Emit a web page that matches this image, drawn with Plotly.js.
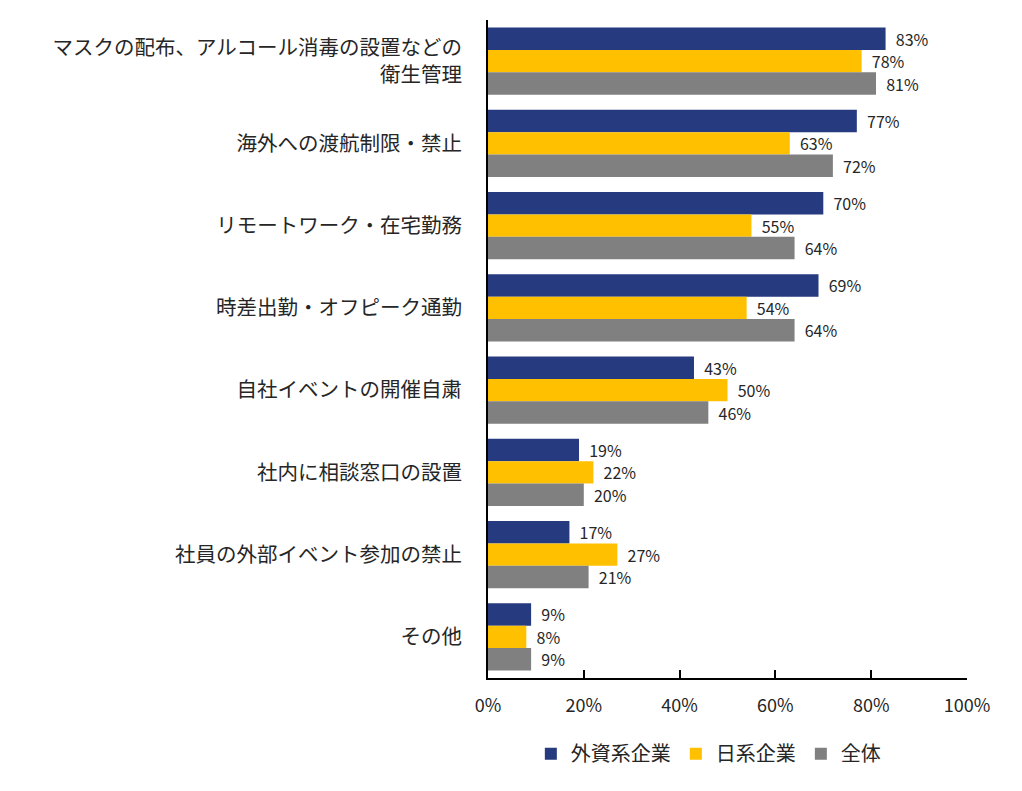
<!DOCTYPE html>
<html><head><meta charset="utf-8">
<script src="https://cdn.plot.ly/plotly-3.0.1.min.js"></script>
<style>body{margin:0;background:#fff}#c{width:1022px;height:791px}</style>
</head><body><div id="c"></div>
<script>
const categories = ["マスクの配布、アルコール消毒の設置などの<br>衛生管理","海外への渡航制限・禁止","リモートワーク・在宅勤務","時差出勤・オフピーク通勤","自社イベントの開催自粛","社内に相談窓口の設置","社員の外部イベント参加の禁止","その他"];
const foreign = [83,77,70,69,43,19,17,9];
const japanese = [78,63,55,54,50,22,27,8];
const overall = [81,72,64,64,46,20,21,9];
const seriesNames = ["外資系企業","日系企業","全体"];
const colors = ["#253A7F","#FFC000","#808080"];
const font = "'Noto Sans CJK JP', 'Noto Sans', sans-serif";
const mk = (vals,i)=>({type:'bar',orientation:'h',name:seriesNames[i],y:categories,x:vals.map(v=>v/100),
  marker:{color:colors[i]},text:vals.map(v=>'\u00a0\u00a0'+v+'%'),textposition:'outside',cliponaxis:false,
  constraintext:'none',
  textfont:{size:16,color:'#262626',family:font},hoverinfo:'none'});
const data=[mk(foreign,0),mk(japanese,1),mk(overall,2)];
const layout={width:1022,height:791,margin:{l:488,r:55,t:20,b:113},
  barmode:'group',bargap:0.18,bargroupgap:0,
  paper_bgcolor:'#fff',plot_bgcolor:'#fff',showlegend:true,
  font:{family:font,color:'#262626'},
  xaxis:{range:[0,1],tickvals:[0,0.2,0.4,0.6,0.8,1],tickformat:'.0%',showgrid:false,zeroline:false,
    showline:true,linecolor:'#000',linewidth:2,ticks:'inside',ticklen:8,tickwidth:2,tickcolor:'#000',
    tickfont:{size:18,color:'#262626'},ticklabelstandoff:10},
  yaxis:{autorange:'reversed',showgrid:false,zeroline:false,showline:true,linecolor:'#000',linewidth:2,
    ticks:'',tickfont:{size:20.5,color:'#262626'},ticklabelstandoff:20},
  legend:{orientation:'h',x:0.46,xanchor:'center',y:-0.115,yanchor:'middle',traceorder:'normal',
    font:{size:20,color:'#262626'},itemwidth:20}
};
Plotly.newPlot('c',data,layout,{staticPlot:true});
</script></body></html>
